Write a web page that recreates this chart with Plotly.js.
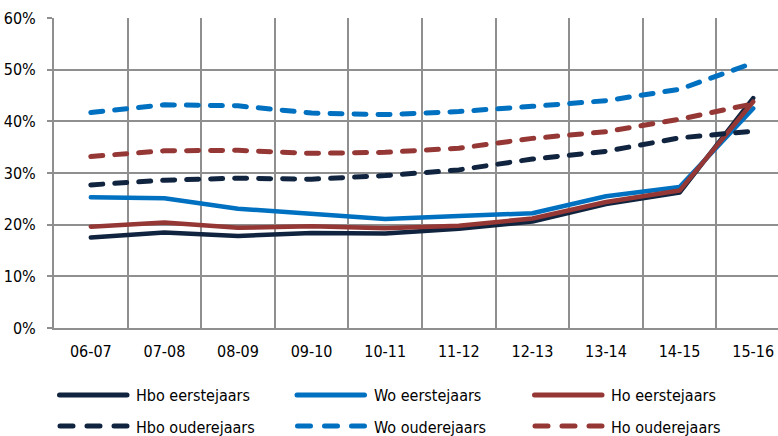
<!DOCTYPE html>
<html>
<head>
<meta charset="utf-8">
<script src="https://cdn.plot.ly/plotly-3.0.1.min.js"></script>
<style>
  html, body { margin: 0; padding: 0; background: #fff; }
  #chart { width: 778px; height: 436px; }
</style>
</head>
<body>
<div id="chart"></div>
<script>
// ---- data (percent) ----
const categories = ['06-07','07-08','08-09','09-10','10-11','11-12','12-13','13-14','14-15','15-16'];
const hboEerstejaars = [17.5, 18.5, 17.8, 18.4, 18.3, 19.2, 20.6, 24.0, 26.2, 44.5];
const woEerstejaars  = [25.3, 25.1, 23.1, 22.2, 21.1, 21.7, 22.2, 25.5, 27.3, 42.5];
const hoEerstejaars  = [19.6, 20.4, 19.4, 19.7, 19.3, 19.8, 21.2, 24.4, 26.6, 43.8];
const hboOuderejaars = [27.7, 28.6, 29.0, 28.8, 29.5, 30.6, 32.7, 34.2, 36.8, 38.1];
const woOuderejaars  = [41.7, 43.2, 43.0, 41.6, 41.3, 41.9, 42.9, 44.0, 46.2, 51.3];
const hoOuderejaars  = [33.2, 34.3, 34.4, 33.8, 34.0, 34.8, 36.7, 38.0, 40.4, 43.4];
const seriesNames = ['Hbo eerstejaars','Wo eerstejaars','Ho eerstejaars','Hbo ouderejaars','Wo ouderejaars','Ho ouderejaars'];
const yTickValues = [0, 10, 20, 30, 40, 50, 60];

// ---- styles ----
const NAVY = '#10243f', BLUE = '#0070c0', RED = '#953735';
const GRID = '#8f8f8f';
const FONT = '"DejaVu Sans Condensed", "DejaVu Sans", sans-serif';
const seriesValues = [hboEerstejaars, woEerstejaars, hoEerstejaars, hboOuderejaars, woOuderejaars, hoOuderejaars];
const seriesColors = [NAVY, BLUE, RED, NAVY, BLUE, RED];
const seriesDashed = [false, false, false, true, true, true];

const traces = seriesValues.map((vals, i) => ({
  type: 'scatter',
  mode: 'lines',
  x: categories,
  y: vals,
  name: seriesNames[i],
  showlegend: false,
  line: {
    color: seriesColors[i],
    width: seriesDashed[i] ? 5 : 4.5,
    dash: seriesDashed[i] ? '12px,12px' : 'solid',
    shape: 'linear'
  },
  hoverinfo: 'skip'
}));

// ---- manual legend (3 columns x 2 rows) ----
const shapes = [];
const annotations = [];
const colStep = 237.5;     // px between legend columns
const rowOffsets = [-67, -98]; // px relative to plot bottom
seriesNames.forEach((name, i) => {
  const col = i % 3, row = Math.floor(i / 3);
  const x0 = 6 + col * colStep;
  shapes.push({
    type: 'line', xref: 'paper', yref: 'paper',
    xsizemode: 'pixel', ysizemode: 'pixel', xanchor: 0, yanchor: 0,
    x0: seriesDashed[i] ? x0 : x0 - 0.5, x1: x0 + 67,
    y0: rowOffsets[row], y1: rowOffsets[row],
    line: { color: seriesColors[i], width: 5, dash: seriesDashed[i] ? '13px,14px' : 'solid' }
  });
  annotations.push({
    xref: 'paper', yref: 'paper',
    x: (80 + col * colStep) / 724, y: (rowOffsets[row] - 1) / 310,
    xanchor: 'left', yanchor: 'middle',
    text: name, showarrow: false,
    font: { family: FONT, size: 16, color: '#000' }
  });
});

const layout = {
  width: 778, height: 436,
  margin: { l: 54, r: 0, t: 18, b: 108, pad: 0 },
  paper_bgcolor: '#fff', plot_bgcolor: '#fff',
  font: { family: FONT, size: 16, color: '#000' },
  showlegend: false,
  xaxis: {
    type: 'category',
    categoryorder: 'array', categoryarray: categories,
    range: [-0.5, 9.337],
    tickson: 'boundaries',
    showgrid: true, gridcolor: GRID, gridwidth: 2,
    showline: true, linecolor: GRID, linewidth: 2,
    ticks: '', ticklabelstandoff: 8,
    tickfont: { family: FONT, size: 16, color: '#000' },
    fixedrange: true
  },
  yaxis: {
    range: [0, 60],
    tickvals: yTickValues,
    ticktext: yTickValues.map(v => v + '%'),
    showgrid: true, gridcolor: GRID, gridwidth: 2,
    zeroline: false,
    showline: true, linecolor: GRID, linewidth: 2,
    ticks: 'outside', ticklen: 5, tickwidth: 2, tickcolor: GRID,
    ticklabelstandoff: 8,
    tickfont: { family: FONT, size: 16, color: '#000' },
    fixedrange: true
  },
  shapes: shapes,
  annotations: annotations
};

Plotly.newPlot('chart', traces, layout, { displayModeBar: false, staticPlot: true }).then(() => {
  document.querySelectorAll('.scatterlayer .js-line').forEach(p => {
    p.style.strokeLinecap = 'round';
    p.style.strokeLinejoin = 'round';
  });
  document.querySelectorAll('.shapelayer path').forEach(p => {
    p.style.strokeLinecap = 'round';
  });
});
</script>
</body>
</html>
